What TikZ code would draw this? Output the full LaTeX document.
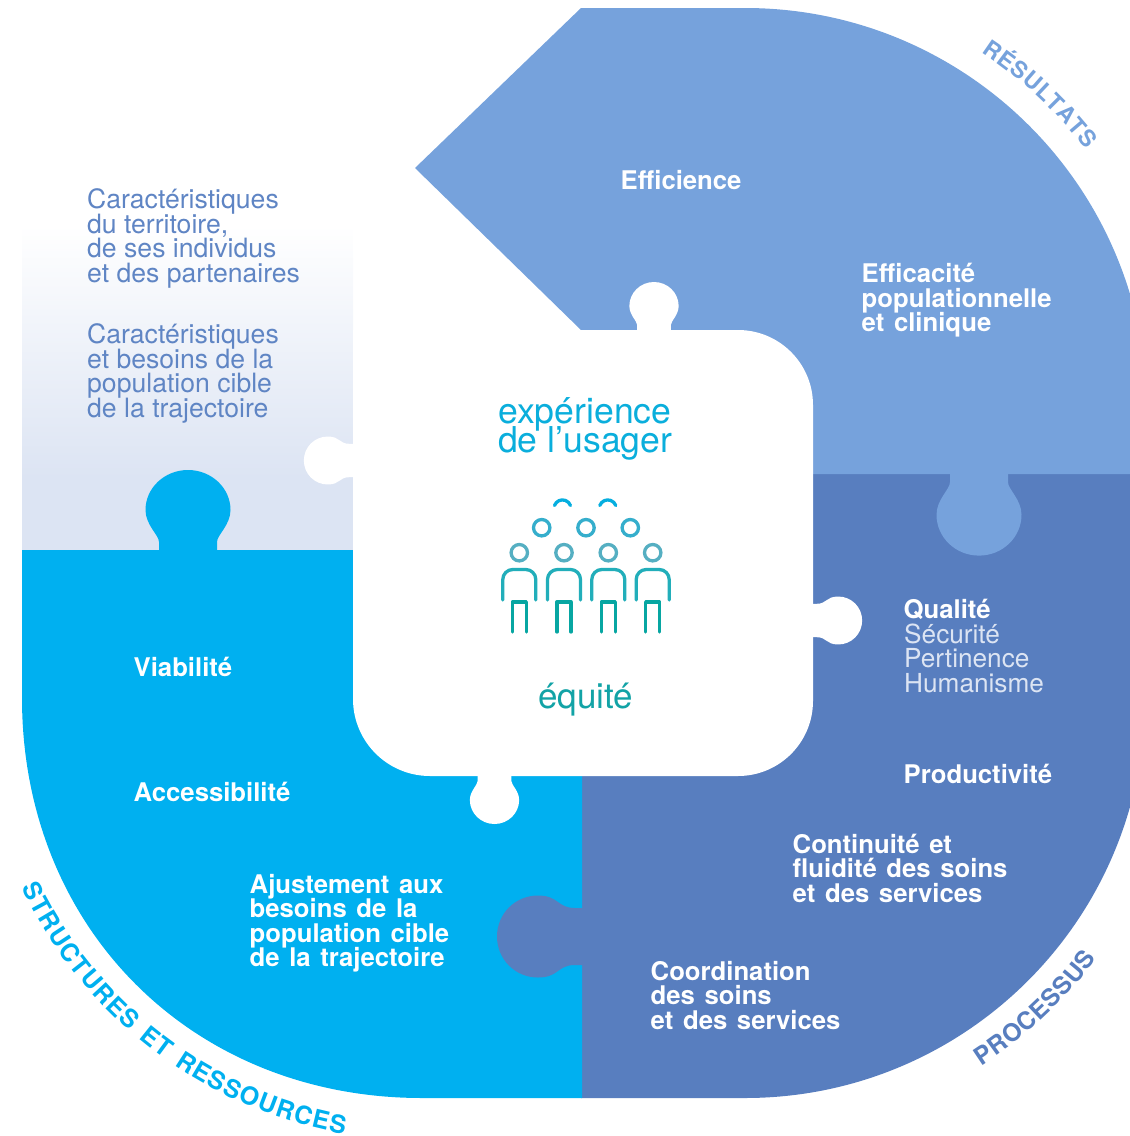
\documentclass[tikz,border=0pt]{standalone}
\usepackage{fontspec}
\setmainfont{TeX Gyre Heros}[BoldFeatures={WordSpace=1.35}]
\usetikzlibrary{calc,decorations.text}
\AtBeginDocument{\setlength{\lineskiplimit}{-100pt}}
\definecolor{cblue}{HTML}{00B0F0}
\definecolor{cmed}{HTML}{587EBF}
\definecolor{clight}{HTML}{76A2DC}
\definecolor{cpale}{HTML}{DCE4F3}
\definecolor{cmid}{HTML}{F3F6FB}
\definecolor{ctxt}{HTML}{5F85C4}
\definecolor{ccya}{HTML}{0AAEDC}
\definecolor{cteal}{HTML}{12A3A6}
\newcommand{\puzzletab}[7]{%
  \fill[#7,shift={(#1,#2)},rotate=#3,xscale=#4,yscale=#5]
    (-#6,2) -- (-#6,-8) .. controls (-#6,-15) and (-42.5,-25) .. (-42.5,-40)
    .. controls (-42.5,-62) and (-23.5,-80) .. (0,-80)
    .. controls (23.5,-80) and (42.5,-62) .. (42.5,-40)
    .. controls (42.5,-25) and (#6,-15) .. (#6,-8) -- (#6,2) -- cycle;}
\newcommand{\puzzlesoft}[5]{%
  \fill[#5,shift={(#1,#2)},rotate=#3,scale=#4]
    (-28.5,2) -- (-28.5,-6) .. controls (-28.5,-24) and (-41,-22) .. (-41,-43)
    .. controls (-41,-66) and (-22.6,-84) .. (0,-84)
    .. controls (22.6,-84) and (41,-66) .. (41,-43)
    .. controls (41,-22) and (28.5,-24) .. (28.5,-6) -- (28.5,2) -- cycle;}
\newcommand{\person}[1]{%
  \draw[icon,draw=cr3] (#1,552.7) circle[radius=8.2pt];
  \draw[icon,draw=cbody] (#1-16.5,600) -- (#1-16.5,579.5) arc[start angle=180,end angle=90,radius=10pt]
     -- (#1+6.5,569.5) arc[start angle=90,end angle=0,radius=10pt] -- (#1+16.5,600);
  \draw[icon,draw=cleg] (#1-7,632) -- (#1-7,602) -- (#1+7,602) -- (#1+7,632);}
\definecolor{cr3}{HTML}{55AFC2}
\definecolor{cr2}{HTML}{35AECC}
\definecolor{cr1}{HTML}{05AEDF}
\definecolor{cbody}{HTML}{22AEBA}
\definecolor{cleg}{HTML}{07A6A2}
\tikzset{
  lbl/.style={anchor=north west,inner sep=0pt,align=left},
  lblw/.style={lbl,xshift=-0.5pt,text=white,font=\fontsize{25.7}{24.5}\selectfont\bfseries},
  lbld/.style={lbl,yshift=-0.5pt,text=ctxt,font=\fontsize{26.6}{24.5}\selectfont},
  lbll/.style={lbl,text=cpale,font=\fontsize{26.2}{24.5}\selectfont},
  icon/.style={line width=3.3pt,line cap=round,line join=round},
  curve/.style={decorate,decoration={text along path,text align={fit to path},text={#1}}}
}
\newcommand{\cfontA}{\fontsize{25}{25}\selectfont\bfseries}
\newcommand{\cfontB}{\fontsize{24.5}{25}\selectfont\bfseries}
\newcommand{\cfontC}{\fontsize{23}{23}\selectfont\bfseries}
\begin{document}
\begin{tikzpicture}[x=1pt,y=-1pt]
\useasboundingbox (0,0) rectangle (1130,1136);
\clip (0,0) rectangle (1130,1136);
% left pale panel
\shade[top color=white,middle color=cmid,bottom color=cpale,shading angle=0] (22,225) rectangle (353,478);
\fill[cpale] (22,477) rectangle (353,552);
% processus
\fill[cmed] (581,474) -- (1170,474) -- (1145,698) arc[start angle=0,end angle=-90,radius=400pt] -- (581,1098) -- cycle;
% resultats
\fill[clight] (581,8) -- (745,8) arc[start angle=90,end angle=0,radius=402pt] -- (1147,474) -- (581,474) -- (581,330) -- (415,168) -- cycle;
% structures
\fill[cblue] (22,550) -- (582,550) -- (582,1098) -- (422,1098) .. controls (192,1098) and (22,928) .. (22,698) -- cycle;
% centre piece
\fill[white] (353,330) -- (738,330) arc[start angle=90,end angle=0,radius=75pt] -- (813,701) arc[start angle=0,end angle=-90,radius=75pt] -- (430,776) arc[start angle=270,end angle=180,radius=77pt] -- cycle;
% tabs
\puzzletab{188}{550}{0}{1}{1}{29}{cblue}
\puzzletab{979}{474}{180}{1}{1.02}{29}{clight}
\puzzlesoft{581}{936.5}{90}{1}{cmed}
\puzzletab{654}{330}{0}{.58}{.6}{29}{white}
\puzzlesoft{353}{460.5}{90}{.585}{white}
\puzzlesoft{813}{620.5}{-90}{.585}{white}
\puzzletab{494.5}{776}{180}{.58}{.6}{29}{white}
% labels
\node[lbld] (t1) at (87,188) {\rule{0pt}{20pt}Caractéristiques\\du territoire,\\de ses individus\\et des partenaires};
\node[lbld] (t2) at (87,323) {\rule{0pt}{20pt}Caractéristiques\\et besoins de la\\population cible\\de la trajectoire};
\node[lblw] (t3) at (621,169) {\rule{0pt}{20pt}Efficience};
\node[lblw] (t4) at (862,262.5) {\rule{0pt}{20pt}Efficacité\\populationnelle\\et clinique};
\node[lblw] (t5) at (904,598) {\rule{0pt}{20pt}Qualité};
\node[lbll] (t6) at (904,623) {\rule{0pt}{20pt}Sécurité\\Pertinence\\Humanisme};
\node[lblw] (t7) at (904,763) {\rule{0pt}{20pt}Productivité};
\node[lblw] (t8) at (793,833) {\rule{0pt}{20pt}Continuité et\\fluidité des soins\\et des services};
\node[lblw] (t9) at (651,960) {\rule{0pt}{20pt}Coordination\\des soins\\et des services};
\node[lblw] (t10) at (134,656) {\rule{0pt}{20pt}Viabilité};
\node[lblw] (t11) at (134,781) {\rule{0pt}{20pt}Accessibilité};
\node[lblw] (t12) at (250,873) {\rule{0pt}{20pt}Ajustement aux\\besoins de la\\population cible\\de la trajectoire};
\node[anchor=north west,inner sep=0pt,align=left,text=ccya,font=\fontsize{35.6}{29}\selectfont] (t13) at (498,397) {\rule{0pt}{24pt}expérience\\de l’usager};
\node[anchor=base,inner sep=0pt,text=cteal,font=\fontsize{35}{35}\selectfont] (t14) at (585.5,708) {équité};
% icon
\draw[icon,draw=cr1] (554.5,505.5) arc[start angle=160,end angle=20,radius=8.5pt];
\draw[icon,draw=cr1] (599.8,505.5) arc[start angle=160,end angle=20,radius=8.5pt];
\foreach \xx in {541.7,586,630.3}{\draw[icon,draw=cr2] (\xx,527.7) circle[radius=8.2pt];}
\foreach \xx in {519.3,564,608.3,652.7}{\person{\xx}}
% curved labels
\coordinate (cbl) at (422,698);
\coordinate (cbr) at (745,698);
\coordinate (ctr) at (745,410);
\path[curve={|\cfontA\color{cblue}|STRUCTURES ET RESSOURCES}] ($(cbl)+(205.3:443pt)$) arc[start angle=205.3,end angle=259.9,radius=443pt];
\path[curve={|\cfontB\color{cmed}|PROCESSUS}] ($(cbr)+(302.7:437.5pt)$) arc[start angle=302.7,end angle=323.5,radius=437.5pt];
\path[curve={|\cfontC\color{clight}|RÉSULTATS}] ($(ctr)+(56.5:429pt)$) arc[start angle=56.5,end angle=37.4,radius=429pt];
\end{tikzpicture}
\end{document}
